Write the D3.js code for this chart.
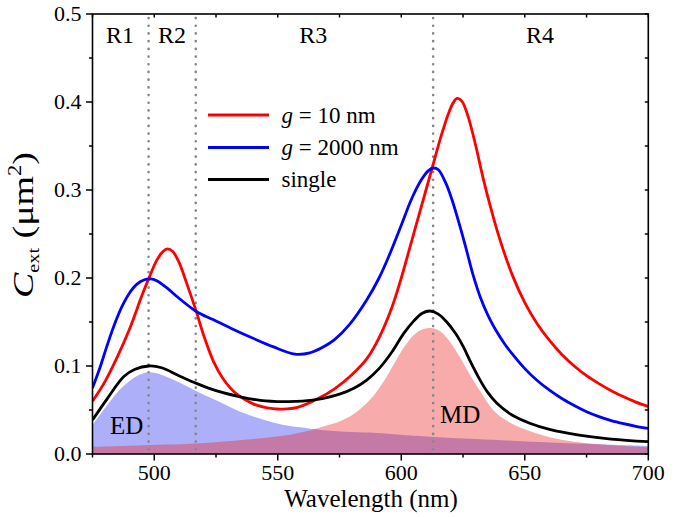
<!DOCTYPE html>
<html>
<head>
<meta charset="utf-8">
<script src="https://cdn.jsdelivr.net/npm/d3@7"></script>
<style>
  html, body { margin: 0; padding: 0; background: #fff; }
  svg { display: block; }
  text { font-family: "Liberation Serif", "Times New Roman", "DejaVu Serif", serif; }
</style>
</head>
<body>
<svg id="chart" width="698" height="517"></svg>
<script>
// Extinction cross-section spectra (µm²) vs wavelength (nm)
const redWl   = [475, 480, 485, 490, 495, 498, 501, 503.5, 505.4, 507.5, 510, 513, 517, 520, 524, 528, 533, 540, 548, 552, 558, 566, 573, 580, 586, 591, 596, 600, 604, 608, 612, 616, 619, 621, 622.6, 624.5, 627, 630, 633, 636, 640, 645, 650, 655, 660, 665, 670, 675, 680, 685, 690, 695, 700];
const redVal  = [0.060, 0.082, 0.110, 0.142, 0.180, 0.201, 0.220, 0.230, 0.233, 0.230, 0.218, 0.195, 0.162, 0.135, 0.105, 0.085, 0.069, 0.057, 0.0515, 0.051, 0.053, 0.0625, 0.074, 0.090, 0.108, 0.132, 0.165, 0.200, 0.240, 0.280, 0.320, 0.360, 0.386, 0.399, 0.404, 0.401, 0.384, 0.352, 0.315, 0.282, 0.243, 0.203, 0.172, 0.148, 0.129, 0.113, 0.100, 0.089, 0.080, 0.072, 0.065, 0.059, 0.054];

const blueWl  = [475, 478, 481, 484, 487, 490, 493, 496, 498.5, 501, 505, 510, 517, 524, 531, 540, 548, 557, 563, 568, 573, 579, 586, 591, 595, 600, 604.2, 608, 611, 613, 615, 618, 620.4, 623, 626, 629, 632, 635, 638, 642, 646, 650, 655, 660, 665, 670, 675, 680, 685, 690, 695, 700];
const blueVal = [0.075, 0.098, 0.124, 0.148, 0.168, 0.183, 0.193, 0.198, 0.199, 0.197, 0.189, 0.177, 0.162, 0.1525, 0.143, 0.1315, 0.122, 0.1135, 0.115, 0.121, 0.130, 0.147, 0.175, 0.200, 0.225, 0.260, 0.290, 0.311, 0.322, 0.325, 0.323, 0.308, 0.290, 0.266, 0.236, 0.204, 0.178, 0.158, 0.142, 0.1245, 0.110, 0.097, 0.0835, 0.0725, 0.063, 0.055, 0.048, 0.0425, 0.038, 0.0345, 0.0315, 0.029];

const singleWl  = [475, 481, 487.7, 492, 497.8, 503, 510, 517.3, 525, 534.8, 543, 552.4, 560, 568, 575, 581, 586, 591, 596, 601, 605, 608.5, 611.7, 615, 618.4, 622, 625.1, 628, 631.9, 635, 638.6, 645, 652, 660, 672, 685, 700];
const singleVal = [0.0386, 0.063, 0.088, 0.096, 0.100, 0.098, 0.089, 0.080, 0.072, 0.065, 0.061, 0.0595, 0.060, 0.063, 0.068, 0.075, 0.084, 0.097, 0.115, 0.137, 0.151, 0.160, 0.1625, 0.159, 0.150, 0.137, 0.122, 0.105, 0.084, 0.070, 0.058, 0.044, 0.035, 0.028, 0.0215, 0.017, 0.014];

// Electric dipole (ED) and magnetic dipole (MD) contributions
const edWl  = [475, 480, 485, 490, 494, 497.6, 502, 508, 517.3, 525, 534.8, 543, 552.4, 560, 568.5, 580, 590, 610, 630, 645, 660, 680, 700];
const edVal = [0.033, 0.052, 0.070, 0.083, 0.090, 0.093, 0.091, 0.084, 0.071, 0.061, 0.048, 0.040, 0.033, 0.030, 0.027, 0.025, 0.024, 0.020, 0.017, 0.015, 0.013, 0.011, 0.009];

const mdWl  = [475, 490, 505, 517, 530, 542, 555, 562, 568, 575, 580, 585, 589, 593, 597, 601, 605, 608.5, 612.7, 616, 619, 622, 625, 628, 632, 635, 638.6, 645, 652, 660, 670, 680, 690, 700];
const mdVal = [0.008, 0.0093, 0.0107, 0.012, 0.0145, 0.0175, 0.022, 0.026, 0.031, 0.037, 0.044, 0.055, 0.067, 0.083, 0.102, 0.121, 0.135, 0.1415, 0.143, 0.139, 0.130, 0.118, 0.104, 0.089, 0.071, 0.058, 0.046, 0.034, 0.026, 0.019, 0.014, 0.011, 0.009, 0.0075];

const legendLabels = ["g = 10 nm", "g = 2000 nm", "single"];
const regionNames = ["R1", "R2", "R3", "R4"];
const regionCenters = [486.1, 507.2, 564.4, 656.2];
const regionBounds = [497.7, 516.8, 612.9];
const xTicks = [500, 550, 600, 650, 700];
const yTicks = [0.0, 0.1, 0.2, 0.3, 0.4, 0.5];

const svg = d3.select("#chart");
const L = 92.5, R = 648.3, T = 14, B = 454;
const x = d3.scaleLinear().domain([475, 700]).range([L, R]);
const y = d3.scaleLinear().domain([0, 0.5]).range([B, T]);

const zip = (a, b) => a.map((w, i) => [w, b[i]]);
const smooth = d3.curveCatmullRom.alpha(0.5);

svg.append("defs").append("clipPath").attr("id", "plot")
  .append("rect").attr("x", L).attr("y", T).attr("width", R - L).attr("height", B - T);

const plot = svg.append("g").attr("clip-path", "url(#plot)");

// Dipole contribution fills
const area = d3.area().x(d => x(d[0])).y0(y(0)).y1(d => y(d[1])).curve(smooth);
plot.append("path").datum(zip(edWl, edVal)).attr("d", area).attr("fill", "#adaff8");
plot.append("path").datum(zip(mdWl, mdVal)).attr("d", area)
  .attr("fill", "rgb(234,34,34)").attr("fill-opacity", 0.38);

// Region boundaries
plot.selectAll("line.bound").data(regionBounds).enter().append("line")
  .attr("class", "bound")
  .attr("x1", d => x(d)).attr("x2", d => x(d))
  .attr("y1", T + 4).attr("y2", B)
  .attr("stroke", "#868686").attr("stroke-width", 2.6)
  .attr("stroke-linecap", "round").attr("stroke-dasharray", "0.1,7.6");

// Spectra
const line = d3.line().x(d => x(d[0])).y(d => y(d[1])).curve(smooth);
const series = [
  { wl: redWl, val: redVal, color: "#ff0000" },
  { wl: blueWl, val: blueVal, color: "#0000ff" },
  { wl: singleWl, val: singleVal, color: "#000000" }
];
series.forEach(s => {
  plot.append("path").datum(zip(s.wl, s.val)).attr("d", line)
    .attr("fill", "none").attr("stroke", s.color).attr("stroke-width", 2.8)
    .attr("stroke-linejoin", "round");
});

// Bottom axis ticks and labels
const gx = svg.append("g").attr("transform", `translate(0,${B})`);
gx.selectAll("line").data(d3.range(475, 701, 25)).enter().append("line")
  .attr("x1", d => x(d)).attr("x2", d => x(d)).attr("y1", 0)
  .attr("y2", d => xTicks.includes(d) ? 6.5 : 3.5)
  .attr("stroke", "#000").attr("stroke-width", 1.5);
gx.selectAll("text").data(xTicks).enter().append("text")
  .attr("x", d => x(d)).attr("y", 26).attr("text-anchor", "middle")
  .attr("font-size", 22).text(d => d);

// Left axis ticks and labels
const gy = svg.append("g").attr("transform", `translate(${L},0)`);
gy.selectAll("line").data(d3.range(0, 0.501, 0.05)).enter().append("line")
  .attr("y1", d => y(d)).attr("y2", d => y(d)).attr("x1", 0)
  .attr("x2", (d, i) => i % 2 === 0 ? -6.5 : -3.5)
  .attr("stroke", "#000").attr("stroke-width", 1.5);
gy.selectAll("text").data(yTicks).enter().append("text")
  .attr("x", -11).attr("y", d => y(d)).attr("dy", "0.34em")
  .attr("text-anchor", "end").attr("font-size", 22).text(d => d.toFixed(1));

// Top and right mirrored ticks
svg.append("g").selectAll("line").data(d3.range(475, 701, 25)).enter().append("line")
  .attr("x1", d => x(d)).attr("x2", d => x(d)).attr("y1", T).attr("y2", T + 3.5)
  .attr("stroke", "#000").attr("stroke-width", 1.5);
svg.append("g").selectAll("line").data(d3.range(0, 0.501, 0.05)).enter().append("line")
  .attr("y1", d => y(d)).attr("y2", d => y(d)).attr("x1", R).attr("x2", R - 3.5)
  .attr("stroke", "#000").attr("stroke-width", 1.5);

// Frame
svg.append("rect").attr("x", L).attr("y", T).attr("width", R - L).attr("height", B - T)
  .attr("fill", "none").attr("stroke", "#000").attr("stroke-width", 1.6);

// Region labels
svg.selectAll("text.region").data(regionNames).enter().append("text")
  .attr("class", "region")
  .attr("x", (d, i) => x(regionCenters[i])).attr("y", 43)
  .attr("text-anchor", "middle").attr("font-size", 24).text(d => d);

// ED / MD labels
svg.append("text").attr("x", 110).attr("y", 434).attr("font-size", 25).text("ED");
svg.append("text").attr("x", 440).attr("y", 423).attr("font-size", 25).text("MD");

// Legend
const legend = svg.append("g");
const legendY = [115, 147.5, 179.5];
series.forEach((s, i) => {
  legend.append("line").attr("x1", 208).attr("x2", 269)
    .attr("y1", legendY[i]).attr("y2", legendY[i])
    .attr("stroke", s.color).attr("stroke-width", 2.8);
  const t = legend.append("text").attr("x", 281.5).attr("y", legendY[i] + 7.5).attr("font-size", 23);
  const lbl = legendLabels[i];
  if (lbl.startsWith("g ")) {
    t.append("tspan").attr("font-style", "italic").text("g");
    t.append("tspan").text(lbl.slice(1));
  } else {
    t.text(lbl);
  }
});

// Axis titles
svg.append("text").attr("x", 371).attr("y", 507)
  .attr("text-anchor", "middle").attr("font-size", 25).text("Wavelength (nm)");

const yt = svg.append("text").attr("transform", "translate(33,298) rotate(-90)")
  .attr("font-size", 30).attr("textLength", 146).attr("lengthAdjust", "spacingAndGlyphs");
yt.append("tspan").attr("font-style", "italic").text("C");
yt.append("tspan").attr("font-size", 16).attr("dy", 6).text("ext");
yt.append("tspan").attr("dy", -6).text(" (μm");
yt.append("tspan").attr("font-size", 18).attr("dy", -12).text("2");
yt.append("tspan").attr("dy", 12).text(")");
</script>
</body>
</html>
